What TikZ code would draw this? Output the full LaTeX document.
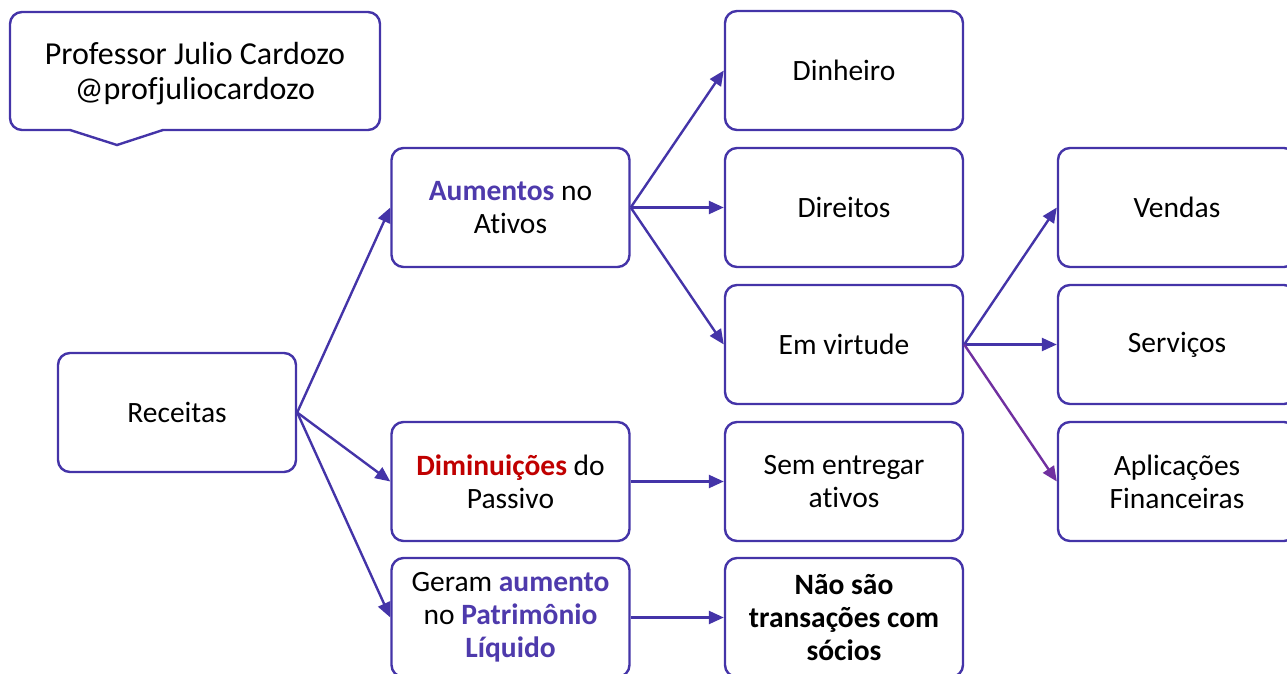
\documentclass[tikz,border=0pt]{standalone}
\usepackage{fontspec}
\setmainfont{Carlito}[Ligatures=NoCommon]
\usetikzlibrary{arrows.meta}
\definecolor{pline}{RGB}{68,52,168}
\definecolor{ptext}{RGB}{78,58,172}
\definecolor{dred}{RGB}{192,0,0}
\definecolor{violet2}{RGB}{112,48,160}
\tikzset{
  box/.style={draw=pline, line width=2.4pt, rounded corners=12pt, minimum width=238pt, minimum height=119pt, align=center, inner sep=0pt, font=\fontsize{29.5}{33}\selectfont, text=black},
  conn/.style={draw=pline, line width=2.4pt, -{Triangle[length=15pt,width=13pt]}}
}
\newcommand{\pb}[1]{\textcolor{ptext}{\textbf{#1}}}
\begin{document}
\begin{tikzpicture}[x=1pt,y=-1pt]
\useasboundingbox (0,0) rectangle (1287,674);
% callout
\draw[draw=pline, line width=2.4pt]
  (117,145) -- (163,130) [rounded corners=12pt] -- (380,130) -- (380,12) -- (10,12) -- (10,130) [sharp corners] -- (70,130) -- cycle;
\node[font=\fontsize{32}{35}\selectfont, align=center] (callout) at (195,73.5) {Professor Julio Cardozo\\@profjuliocardozo};
% boxes
\node[box] (rec) at (177,412.5) {Receitas};
\node[box] (aum) at (510.5,207.5) {\pb{Aumentos} no\\Ativos};
\node[box] (dim) at (510.5,481.5) {\textcolor{dred}{\textbf{Diminuições}} do\\Passivo};
\node[box] (ger) at (510.5,617.5) {Geram \pb{aumento}\\no \pb{Patrimônio}\\\pb{Líquido}};
\node[box] (din) at (844,70.5) {Dinheiro};
\node[box] (dir) at (844,207.5) {Direitos};
\node[box] (emv) at (844,344.5) {Em virtude};
\node[box] (sem) at (844,481.5) {Sem entregar\\ativos};
\node[box] (nao) at (844,617.5) {\textbf{Não são}\\\textbf{transações com}\\\textbf{sócios}};
\node[box] (ven) at (1177,207.5) {Vendas};
\node[box] (ser) at (1177,344.5) {Serviços};
\node[box] (apl) at (1177,481.5) {Aplicações\\Financeiras};
% connectors
\draw[conn] (rec.east) -- (aum.west);
\draw[conn] (rec.east) -- (dim.west);
\draw[conn] (rec.east) -- (ger.west);
\draw[conn] (aum.east) -- (din.west);
\draw[conn] (aum.east) -- (dir.west);
\draw[conn] (aum.east) -- (emv.west);
\draw[conn] (emv.east) -- (ven.west);
\draw[conn] (emv.east) -- (ser.west);
\draw[conn, draw=violet2, fill=violet2] (emv.east) -- (apl.west);
\draw[conn] (dim.east) -- (sem.west);
\draw[conn] (ger.east) -- (nao.west);
\end{tikzpicture}
\end{document}
